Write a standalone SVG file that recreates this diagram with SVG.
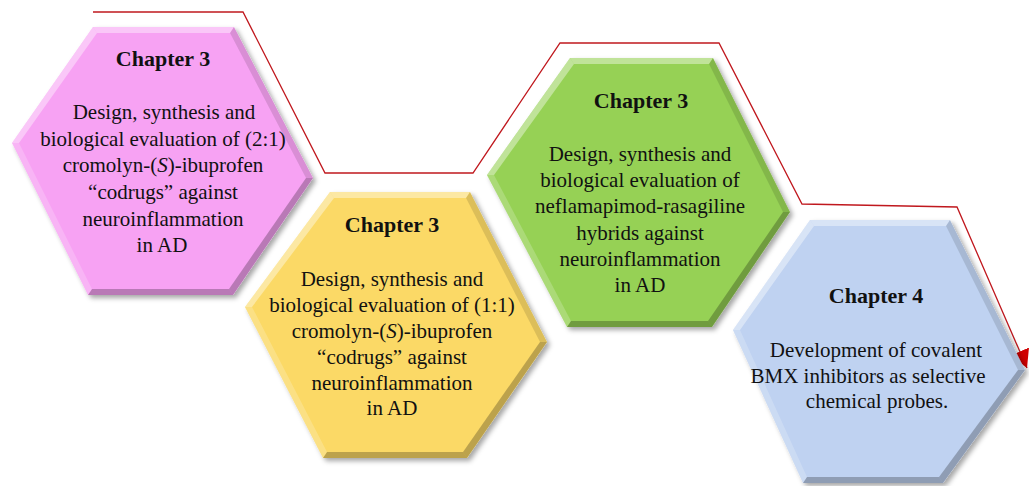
<svg xmlns="http://www.w3.org/2000/svg" width="1029" height="486" viewBox="0 0 1029 486">
<defs>
<filter id="ds" x="-10%" y="-10%" width="125%" height="125%">
<feDropShadow dx="3" dy="3" stdDeviation="2.5" flood-color="#000" flood-opacity="0.35"/>
</filter>
<marker id="arr" markerUnits="userSpaceOnUse" markerWidth="22" markerHeight="22" refX="18" refY="10" orient="auto">
<path d="M0,0 L18,10 L0,20 Z" fill="#d00000"/>
</marker>
</defs>
<style>
text{font-family:"Liberation Serif","Times New Roman",serif;fill:#111;text-anchor:middle}
.h{font-size:22px;font-weight:bold}
.b{font-size:21px}
.hl{fill:#fff;opacity:.4}
.hl2{fill:#fff;opacity:.2}
.sh{fill:#000;opacity:.12}
.sh2{fill:#000;opacity:.25}
.pink{fill:#f7a2f3}
.yel{fill:#fbd966}
.grn{fill:#96d155}
.blu{fill:#bfd2f1}
.red{fill:none;stroke:#c0181e;stroke-width:1.3}
</style>
<rect width="1029" height="486" fill="#fff"/>
<g id="connectors">
<path class="red" d="M93,12 L243,12 L325,173 L473,173 L560,43 L719,43 L802,204 L957,207 L1027,368" marker-end="url(#arr)"/>
</g>
<g id="node1">
<polygon class="pink" filter="url(#ds)" points="93,27 234,27 313,178 233,295 88,295 12,143"/>
<polygon class="hl" points="93,27 234,27 230,33 97,33"/>
<polygon class="sh" points="234,27 313,178 306,178 230,33"/>
<polygon class="sh2" points="313,178 233,295 229,289 306,178"/>
<polygon class="sh2" points="233,295 88,295 92,289 229,289"/>
<polygon class="hl2" points="88,295 12,143 19,143 92,289"/>
<polygon class="hl" points="12,143 93,27 97,33 19,143"/>
<text class="h" x="163" y="66">Chapter 3</text>
<text class="b" x="164" y="119">Design, synthesis and</text>
<text class="b" x="163" y="146">biological evaluation of (2:1)</text>
<text class="b" x="163" y="172">cromolyn-(<tspan font-style="italic">S</tspan>)-ibuprofen</text>
<text class="b" x="163" y="199">“codrugs” against</text>
<text class="b" x="163" y="226">neuroinflammation</text>
<text class="b" x="162" y="252">in AD</text>
</g>
<g id="node2">
<polygon class="yel" filter="url(#ds)" points="330,192 470,192 547,342 467,458 323,458 245,307"/>
<polygon class="hl" points="330,192 470,192 466,198 334,198"/>
<polygon class="sh" points="470,192 547,342 540,342 466,198"/>
<polygon class="sh2" points="547,342 467,458 463,452 540,342"/>
<polygon class="sh2" points="467,458 323,458 327,452 463,452"/>
<polygon class="hl2" points="323,458 245,307 252,307 327,452"/>
<polygon class="hl" points="245,307 330,192 334,198 252,307"/>
<text class="h" x="392" y="232">Chapter 3</text>
<text class="b" x="392" y="286">Design, synthesis and</text>
<text class="b" x="392" y="312">biological evaluation of (1:1)</text>
<text class="b" x="392" y="338">cromolyn-(<tspan font-style="italic">S</tspan>)-ibuprofen</text>
<text class="b" x="392" y="364">“codrugs” against</text>
<text class="b" x="392" y="390">neuroinflammation</text>
<text class="b" x="392" y="415">in AD</text>
</g>
<g id="node3">
<polygon class="grn" filter="url(#ds)" points="570,58 713,58 790,212 712,327 567,327 487,175"/>
<polygon class="hl" points="570,58 713,58 709,64 574,64"/>
<polygon class="sh" points="713,58 790,212 783,212 709,64"/>
<polygon class="sh2" points="790,212 712,327 708,321 783,212"/>
<polygon class="sh2" points="712,327 567,327 571,321 708,321"/>
<polygon class="hl2" points="567,327 487,175 494,175 571,321"/>
<polygon class="hl" points="487,175 570,58 574,64 494,175"/>
<text class="h" x="641" y="108">Chapter 3</text>
<text class="b" x="640" y="161">Design, synthesis and</text>
<text class="b" x="640" y="187">biological evaluation of</text>
<text class="b" x="640" y="213">neflamapimod-rasagiline</text>
<text class="b" x="640" y="240">hybrids against</text>
<text class="b" x="640" y="266">neuroinflammation</text>
<text class="b" x="640" y="292">in AD</text>
</g>
<g id="node4">
<polygon class="blu" filter="url(#ds)" points="810,220 950,220 1025,370 943,483 803,483 733,330"/>
<polygon class="hl" points="810,220 950,220 946,226 814,226"/>
<polygon class="sh" points="950,220 1025,370 1018,370 946,226"/>
<polygon class="sh2" points="1025,370 943,483 939,477 1018,370"/>
<polygon class="sh2" points="943,483 803,483 807,477 939,477"/>
<polygon class="hl2" points="803,483 733,330 740,330 807,477"/>
<polygon class="hl" points="733,330 810,220 814,226 740,330"/>
<text class="h" x="876" y="303">Chapter 4</text>
<text class="b" x="876" y="357">Development of covalent</text>
<text class="b" x="868" y="383">BMX inhibitors as selective</text>
<text class="b" x="877" y="408">chemical probes.</text>
</g>
</svg>
